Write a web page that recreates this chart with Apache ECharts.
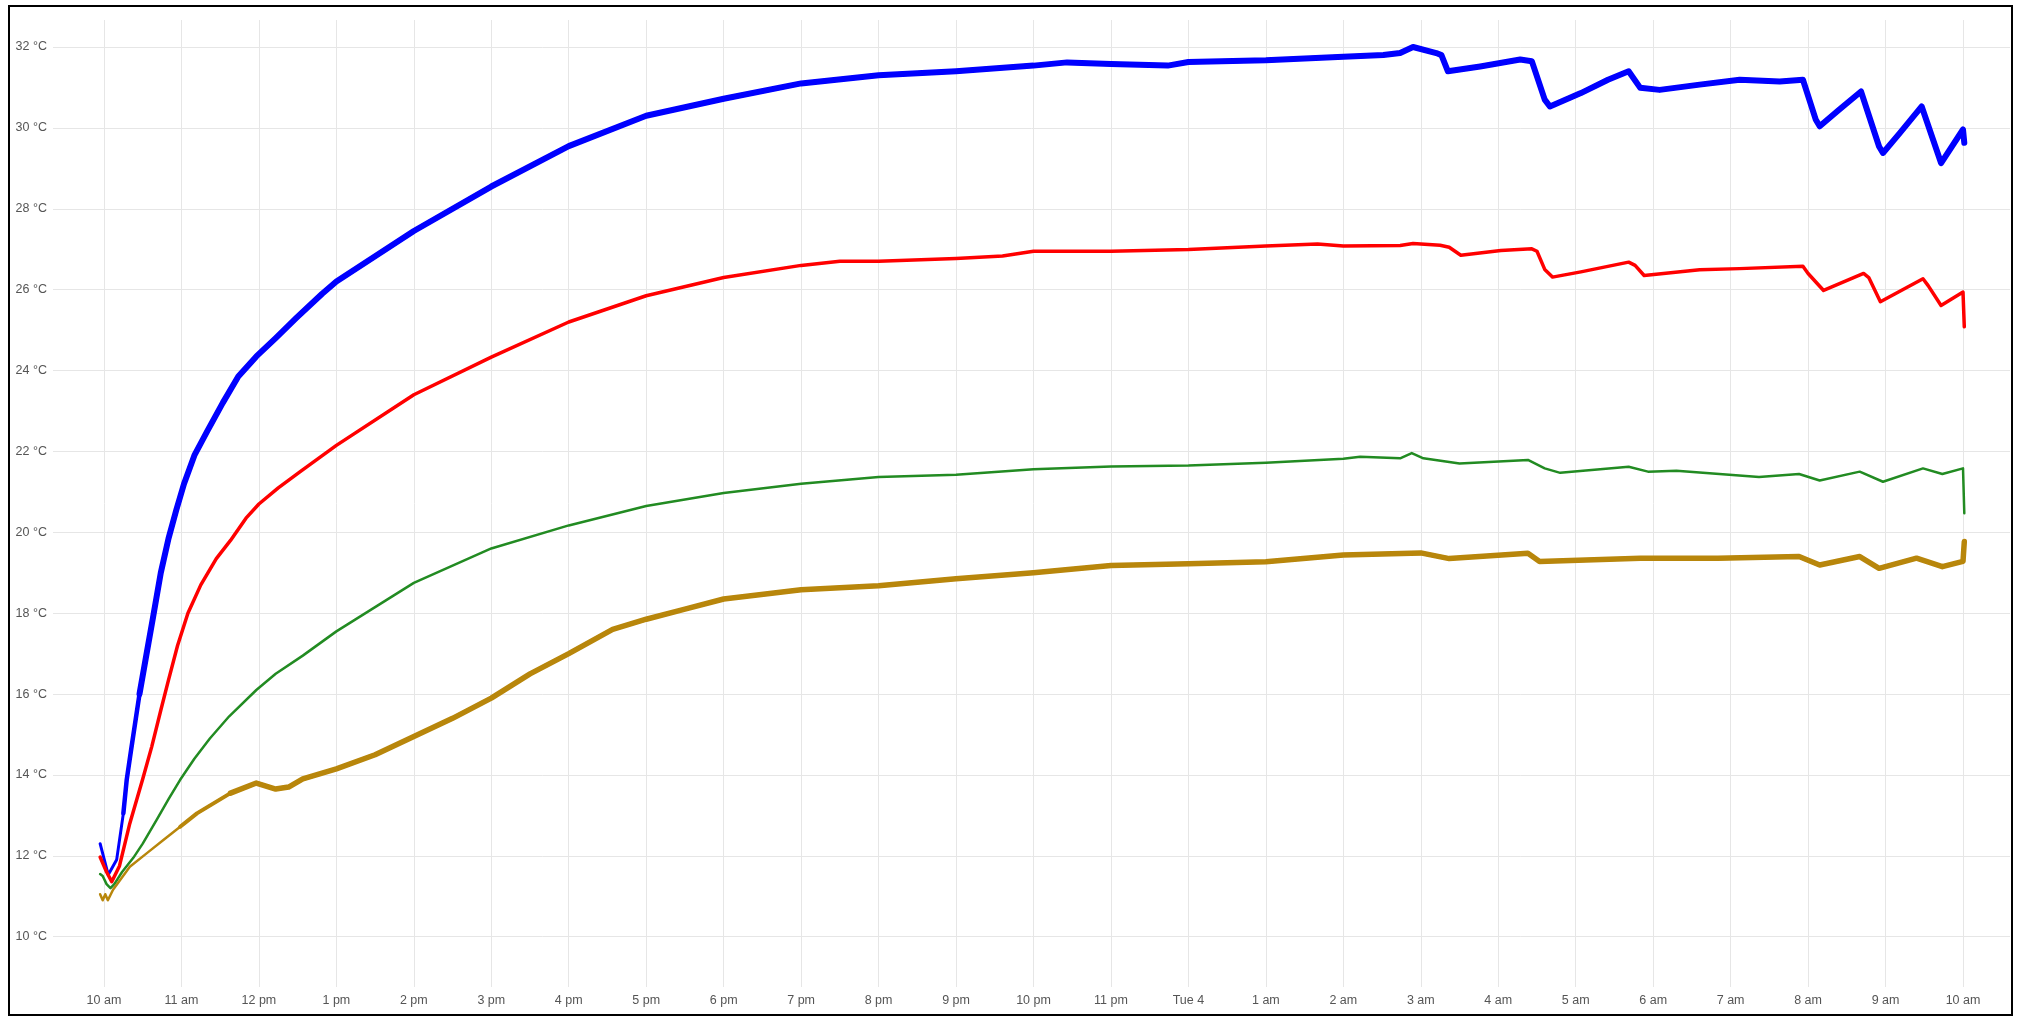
<!DOCTYPE html>
<html>
<head>
<meta charset="utf-8">
<script src="https://cdn.jsdelivr.net/npm/echarts@6/dist/echarts.min.js"></script>
<style>
html,body{margin:0;padding:0;background:#fff;}
#chart{width:2026px;height:1017px;}
</style>
</head>
<body>
<div id="chart"></div>
<script>
// time in minutes after 10:00 am (Mon 3), temperatures in °C
const blueTime = [-3, 3.3, 9.8, 15, 17.6, 21, 27.5, 33, 38, 44, 50, 56, 62, 70, 80, 92, 104, 118, 133, 149, 169, 180, 240, 300, 360, 420, 480, 540, 600, 660, 720, 746, 780, 824, 840, 900, 960, 991, 1004, 1014, 1032, 1036, 1041, 1066, 1097, 1106, 1116, 1120, 1144, 1165, 1181, 1190, 1205, 1236, 1267, 1298, 1316, 1326, 1329, 1344, 1361, 1375, 1378, 1391, 1408, 1423, 1440, 1441];
const blueTemp = [12.3, 11.53, 11.9, 13.05, 13.88, 14.62, 16.0, 17.0, 17.9, 19.0, 19.85, 20.55, 21.2, 21.9, 22.5, 23.2, 23.85, 24.35, 24.8, 25.3, 25.9, 26.2, 27.45, 28.55, 29.55, 30.3, 30.72, 31.1, 31.3, 31.4, 31.54, 31.62, 31.58, 31.54, 31.63, 31.67, 31.76, 31.8, 31.85, 32.0, 31.85, 31.8, 31.4, 31.52, 31.69, 31.65, 30.7, 30.53, 30.86, 31.19, 31.4, 30.99, 30.94, 31.07, 31.19, 31.15, 31.19, 30.2, 30.04, 30.45, 30.9, 29.54, 29.38, 29.87, 30.53, 29.13, 29.96, 29.63];

const redTime = [-3, 2, 6, 12, 20, 30, 37, 44, 50, 57, 65, 75, 87, 98, 110, 120, 135, 152, 180, 240, 300, 360, 420, 480, 540, 570, 600, 660, 696, 720, 780, 840, 900, 940, 960, 1004, 1014, 1035, 1042, 1051, 1082, 1106, 1110, 1116, 1122, 1144, 1181, 1186, 1193, 1236, 1267, 1316, 1320, 1332, 1363, 1367, 1376, 1409, 1413, 1423, 1440, 1441];
const redTemp = [11.97, 11.6, 11.36, 11.75, 12.8, 13.9, 14.7, 15.6, 16.35, 17.2, 18.0, 18.7, 19.35, 19.8, 20.35, 20.7, 21.1, 21.5, 22.15, 23.4, 24.33, 25.2, 25.85, 26.3, 26.6, 26.7, 26.7, 26.77, 26.83, 26.95, 26.95, 26.99, 27.08, 27.13, 27.08, 27.09, 27.14, 27.1, 27.05, 26.85, 26.97, 27.01, 26.95, 26.5, 26.31, 26.44, 26.68, 26.6, 26.35, 26.49, 26.52, 26.58, 26.4, 25.98, 26.4, 26.3, 25.7, 26.27, 26.1, 25.61, 25.94, 25.08];

const greenTime = [-3, -1, 2, 5, 8, 14, 22.7, 30, 41, 50, 59, 70, 82, 97, 118, 133, 154, 180, 240, 300, 360, 420, 480, 540, 600, 660, 720, 780, 840, 900, 960, 973, 1004, 1013, 1022, 1042, 1050, 1103, 1116, 1128, 1181, 1196, 1218, 1282, 1313, 1329, 1360, 1378, 1409, 1424, 1440, 1441];
const greenTemp = [11.55, 11.5, 11.3, 11.2, 11.3, 11.6, 11.95, 12.3, 12.9, 13.4, 13.88, 14.4, 14.9, 15.45, 16.1, 16.5, 16.95, 17.55, 18.75, 19.6, 20.17, 20.65, 20.97, 21.2, 21.37, 21.42, 21.56, 21.63, 21.65, 21.72, 21.82, 21.87, 21.83, 21.96, 21.83, 21.74, 21.7, 21.79, 21.58, 21.47, 21.62, 21.5, 21.52, 21.37, 21.44, 21.28, 21.5, 21.25, 21.58, 21.44, 21.58, 20.47];

const goldTime = [-3, -1, 1, 3, 7, 20, 33, 46, 59, 72, 98, 118, 133, 143, 154, 180, 210, 240, 270, 300, 330, 360, 394, 420, 450, 480, 540, 600, 660, 720, 780, 840, 900, 960, 1020, 1042, 1103, 1112, 1190, 1250, 1313, 1329, 1360, 1375, 1404, 1424, 1440, 1441];
const goldTemp = [11.05, 10.9, 11.05, 10.9, 11.16, 11.73, 12.06, 12.39, 12.72, 13.05, 13.55, 13.8, 13.65, 13.7, 13.9, 14.15, 14.5, 14.95, 15.4, 15.9, 16.5, 17.0, 17.6, 17.85, 18.1, 18.35, 18.58, 18.68, 18.85, 19.0, 19.18, 19.22, 19.27, 19.44, 19.49, 19.35, 19.48, 19.28, 19.36, 19.36, 19.4, 19.19, 19.4, 19.11, 19.36, 19.15, 19.28, 19.77];

const startHour = 10;        // 10 am
const nextDayLabel = 'Tue 4';

function pairs(t, v, from) {
  const out = [];
  t.forEach((x, i) => { if (from === undefined || x >= from) out.push([x, v[i]]); });
  return out;
}

function timeLabel(m) {
  const total = Math.round(startHour * 60 + m);
  const h = Math.floor(((total % 1440) + 1440) % 1440 / 60);
  if (h === 0) return nextDayLabel;
  const h12 = h % 12 === 0 ? 12 : h % 12;
  return h12 + (h < 12 ? ' am' : ' pm');
}

const chart = echarts.init(document.getElementById('chart'), null, {renderer: 'canvas'});
const labelFont = {fontFamily: 'Liberation Sans, Arial, sans-serif', fontSize: 12.5, color: '#555'};

function line(name, data, color, width, z) {
  return {type: 'line', name: name, data: data, showSymbol: false, symbol: 'none', z: z,
          lineStyle: {color: color, width: width, join: 'round', cap: 'round'}, itemStyle: {color: color}};
}

chart.setOption({
  animation: false,
  backgroundColor: '#fff',
  grid: {left: 53, right: 16, top: 20, bottom: 30, containLabel: false},
  xAxis: {
    type: 'value',
    min: -39.5, max: 1476.4,
    minInterval: 60, maxInterval: 60, splitNumber: 25,
    axisLine: {show: false}, axisTick: {show: false},
    axisLabel: Object.assign({margin: 7, showMinLabel: false, showMaxLabel: false, formatter: timeLabel}, labelFont),
    splitLine: {show: true, showMinLine: false, showMaxLine: false, lineStyle: {color: '#e6e6e6', width: 1}}
  },
  yAxis: {
    type: 'value',
    min: 8.756, max: 32.668,
    minInterval: 2, maxInterval: 2, splitNumber: 12,
    axisLine: {show: false}, axisTick: {show: false},
    axisLabel: Object.assign({margin: 6, showMinLabel: false, showMaxLabel: false, formatter: v => v + ' °C'}, labelFont),
    splitLine: {show: true, showMinLine: false, showMaxLine: false, lineStyle: {color: '#e6e6e6', width: 1}}
  },
  graphic: [{
    type: 'rect', z: 100, silent: true,
    shape: {x: 9, y: 6, width: 2003, height: 1009},
    style: {fill: 'none', stroke: '#000', lineWidth: 2}
  }],
  series: [
    line('blue', pairs(blueTime, blueTemp), '#0000ff', 3, 2),
    line('blue mid', pairs(blueTime, blueTemp, 15), '#0000ff', 4.5, 2),
    line('blue band', pairs(blueTime, blueTemp, 27.5), '#0000ff', 6, 2),
    line('red', pairs(redTime, redTemp), '#ff0000', 3.5, 3),
    line('green', pairs(greenTime, greenTemp), '#228b22', 2.5, 4),
    line('gold', pairs(goldTime, goldTemp), '#b8860b', 2.5, 5),
    line('gold mid', pairs(goldTime, goldTemp, 59), '#b8860b', 4, 5),
    line('gold band', pairs(goldTime, goldTemp, 98), '#b8860b', 5.5, 5)
  ]
});
</script>
</body>
</html>
